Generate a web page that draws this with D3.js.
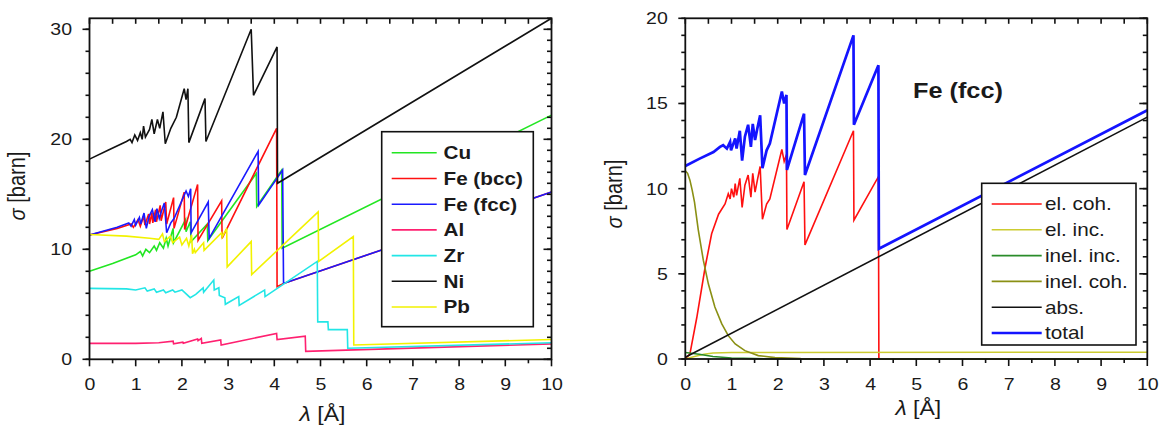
<!DOCTYPE html>
<html>
<head>
<meta charset="utf-8">
<script src="https://cdn.jsdelivr.net/npm/d3@7"></script>
<style>
  body { margin: 0; background: #fff; }
  svg text { font-family: "Liberation Sans", Arial, sans-serif; fill: #1a1a1a; }
</style>
</head>
<body>
<svg id="chart" width="1164" height="430"></svg>
<script>
// Neutron cross sections vs wavelength: left = several metals, right = Fe (fcc) components

// ---- tick labels ----
const xTicks = [0, 1, 2, 3, 4, 5, 6, 7, 8, 9, 10];
const leftYTicks = [0, 10, 20, 30];
const rightYTicks = [0, 5, 10, 15, 20];

// ---- left panel series, [lambda (A), sigma (barn)] ----
const cuData = [[0,8.0],[0.5,8.7],[1.0,9.5],[1.1,9.8],[1.15,9.4],[1.22,10.0],[1.3,9.7],[1.4,10.3],[1.45,9.9],[1.52,10.6],[1.6,10.1],[1.66,11.0],[1.7,10.3],[1.81,11.9],[1.82,10.6],[2.08,12.7],[2.09,11.6],[2.18,12.5],[2.2,10.7],[2.55,12.3],[2.56,10.8],[3.61,16.9],[3.62,13.9],[4.16,17.2],[4.17,10.1],[10,22.2]];
const feBccData = [[0,11.3],[0.6,11.9],[0.9,12.3],[0.95,12.0],[1.05,12.7],[1.1,12.1],[1.17,13.0],[1.2,12.2],[1.28,13.2],[1.3,12.3],[1.35,13.3],[1.37,12.4],[1.43,13.6],[1.45,12.5],[1.53,14.0],[1.55,12.6],[1.65,14.3],[1.67,12.3],[1.82,14.7],[1.83,11.9],[2.05,15.2],[2.06,11.8],[2.34,15.9],[2.35,10.8],[2.86,14.4],[2.87,11.0],[4.05,21.0],[4.06,6.6],[4.2,6.9],[10,15.2]];
const feFccData = [[0,11.3],[0.6,12.0],[0.85,12.4],[0.9,12.1],[0.97,12.7],[1.0,12.2],[1.08,12.9],[1.11,12.3],[1.18,13.3],[1.23,11.9],[1.29,13.0],[1.36,13.6],[1.42,12.5],[1.46,13.7],[1.51,12.8],[1.56,13.5],[1.62,14.2],[1.67,11.5],[1.76,12.4],[1.83,12.8],[2.09,15.3],[2.14,14.8],[2.19,15.5],[2.2,11.5],[2.57,14.3],[2.59,11.0],[3.65,18.9],[3.66,14.0],[4.18,17.2],[4.2,6.9],[10,15.2]];
const alData = [[0,1.45],[1.0,1.45],[1.5,1.5],[1.81,1.65],[1.82,1.4],[2.02,1.55],[2.03,1.45],[2.34,1.85],[2.35,1.7],[2.42,1.9],[2.43,1.45],[2.84,1.75],[2.85,1.3],[4.05,2.35],[4.06,1.8],[4.67,2.1],[4.68,0.72],[10,1.4]];
const zrData = [[0,6.45],[0.8,6.4],[1.0,6.3],[1.2,6.5],[1.25,6.2],[1.4,6.4],[1.45,6.1],[1.6,6.3],[1.65,6.05],[1.8,6.3],[1.85,6.1],[2.0,6.3],[2.18,5.6],[2.3,5.9],[2.46,6.5],[2.47,6.1],[2.69,7.2],[2.7,6.3],[2.8,6.5],[2.81,5.8],[2.93,5.6],[2.94,5.0],[3.23,5.7],[3.24,4.9],[3.79,6.3],[3.8,5.7],[4.93,8.9],[4.94,3.4],[5.16,3.4],[5.17,2.7],[5.58,2.7],[5.59,1.0],[10,1.5]];
const niData = [[0,18.2],[0.4,19.0],[0.8,19.8],[0.88,20.0],[0.92,19.7],[0.98,20.4],[1.04,19.9],[1.1,20.6],[1.14,20.0],[1.17,21.2],[1.21,20.2],[1.3,20.9],[1.35,21.8],[1.4,20.5],[1.47,21.8],[1.52,21.0],[1.59,22.5],[1.64,19.6],[1.76,21.0],[1.88,22.0],[2.05,24.6],[2.09,23.6],[2.13,24.6],[2.15,19.7],[2.5,23.7],[2.52,19.8],[3.5,30.0],[3.55,24.0],[4.06,28.4],[4.07,16.0],[10,31.0]];
const pbData = [[0,11.35],[0.8,11.2],[1.3,11.0],[1.5,10.9],[1.58,11.4],[1.62,10.7],[1.75,11.2],[1.8,10.6],[1.95,11.1],[2.0,10.4],[2.1,11.0],[2.15,10.3],[2.21,11.3],[2.23,9.6],[2.27,10.0],[2.29,9.7],[2.47,10.6],[2.48,9.9],[2.86,11.5],[2.87,11.1],[2.97,11.9],[2.98,8.4],[3.5,10.7],[3.51,7.7],[4.95,13.4],[4.96,8.9],[5.71,11.15],[5.72,1.3],[10,1.8]];

// ---- right panel series (Fe fcc) ----
const elCohData = [[0,0],[0.1,0.3],[0.25,2.45],[0.43,5.4],[0.57,7.35],[0.72,8.5],[0.86,9.1],[0.93,9.7],[0.97,9.4],[1.0,10.0],[1.05,9.5],[1.08,10.3],[1.11,9.6],[1.18,10.6],[1.23,8.9],[1.29,10.2],[1.36,10.8],[1.42,9.5],[1.46,10.9],[1.51,9.8],[1.56,10.5],[1.62,11.3],[1.67,8.2],[1.76,9.1],[1.83,9.4],[2.09,12.3],[2.14,11.6],[2.19,12.0],[2.2,7.6],[2.57,10.4],[2.59,6.7],[3.64,13.4],[3.65,8.15],[4.18,10.7],[4.19,0],[10,0]];
const elIncData = [[0,0],[0.2,0.15],[0.4,0.28],[0.6,0.35],[1.0,0.38],[10,0.4]];
const inelIncData = [[0,0.38],[0.3,0.28],[0.6,0.15],[1.0,0.06],[1.5,0.02],[2.0,0],[10,0]];
const inelCohData = [[0,11.05],[0.05,10.9],[0.1,10.5],[0.15,9.9],[0.2,9.2],[0.28,7.6],[0.39,5.8],[0.5,4.4],[0.64,3.05],[0.79,2.06],[0.93,1.37],[1.08,0.88],[1.29,0.49],[1.58,0.2],[1.94,0.08],[2.5,0.02],[3,0],[10,0]];
const absData = [[0,0.1],[10,14.2]];
const totalData = [[0,11.33],[0.3,11.75],[0.61,12.15],[0.75,12.45],[0.82,12.55],[0.9,12.35],[0.97,12.75],[0.99,12.25],[1.08,12.95],[1.11,12.35],[1.18,13.4],[1.23,11.65],[1.29,13.05],[1.36,13.75],[1.42,12.45],[1.46,13.8],[1.51,12.85],[1.56,13.55],[1.62,14.3],[1.67,11.2],[1.76,12.25],[1.83,12.65],[2.09,15.7],[2.14,15.0],[2.19,15.5],[2.2,11.1],[2.57,14.4],[2.59,10.8],[3.64,19.0],[3.65,13.75],[4.18,17.25],[4.19,6.47],[10,14.6]];

const STRETCH = 1.15; // glyphs in the reference are a little wide
const svg = d3.select('#chart');

const leftPanel = {
    left: 89.5, right: 551.5, top: 18.3, bottom: 359.3, yMax: 31,
    yTicks: leftYTicks, yMinorStep: 2, yRightMajor: 10,
    ylabelX: 25, ylabelY: 186, xlabelY: 421,
    series: [
        {name: 'Cu', data: cuData, color: '#22e622', width: 1.6},
        {name: 'Fe (bcc)', data: feBccData, color: '#ff1010', width: 1.6},
        {name: 'Fe (fcc)', data: feFccData, color: '#1a1aff', width: 1.6},
        {name: 'Al', data: alData, color: '#ff2070', width: 1.6},
        {name: 'Zr', data: zrData, color: '#22e6e6', width: 1.6},
        {name: 'Ni', data: niData, color: '#111111', width: 1.6},
        {name: 'Pb', data: pbData, color: '#f2f200', width: 1.6}
    ],
    legend: {x: 381.7, y: 131.7, w: 151.6, h: 195, row0: 152.8, step: 25.7,
             lineX0: 391.7, lineX1: 436.7, textX: 443.5, bold: true, size: 18}
};

const rightPanel = {
    left: 685.3, right: 1147.3, top: 18.3, bottom: 359, yMax: 20,
    yTicks: rightYTicks, yMinorStep: 1, yRightMajor: 5,
    ylabelX: 622, ylabelY: 194, xlabelY: 415,
    series: [
        {name: 'el. coh.', data: elCohData, color: '#ff1010', width: 1.6},
        {name: 'el. inc.', data: elIncData, color: '#cccc30', width: 1.6},
        {name: 'inel. inc.', data: inelIncData, color: '#2a8c2a', width: 1.6},
        {name: 'inel. coh.', data: inelCohData, color: '#8a9014', width: 1.6},
        {name: 'abs.', data: absData, color: '#111111', width: 1.6},
        {name: 'total', data: totalData, color: '#1414ff', width: 2.7}
    ],
    legend: {x: 981.7, y: 183.3, w: 154.3, h: 161.7, row0: 204, step: 25.8,
             lineX0: 991.7, lineX1: 1041.7, textX: 1045, bold: false, size: 18}
};

function styleAxis(g) {
    g.select('.domain').remove();
    g.attr('font-family', null).attr('font-size', 17).attr('color', '#1a1a1a');
}

// tick marks drawn as plain lines from the scale
function tickMarks(g, values, scale, orient, at, len) {
    g.append('g').selectAll('line')
        .data(values)
        .join('line')
        .attr('stroke', '#111')
        .attr('stroke-width', 1.6)
        .each(function(d) {
            const v = scale(d);
            const l = d3.select(this);
            if (orient === 'h') l.attr('x1', v).attr('x2', v).attr('y1', at).attr('y2', at + len);
            else l.attr('y1', v).attr('y2', v).attr('x1', at).attr('x2', at + len);
        });
}

function drawPanel(p) {
    const x = d3.scaleLinear().domain([0, 10]).range([p.left, p.right]);
    const y = d3.scaleLinear().domain([0, p.yMax]).range([p.bottom, p.top]);
    const g = svg.append('g');

    // Curves
    const line = d3.line().x(d => x(d[0])).y(d => y(d[1]));
    p.series.forEach(s => {
        g.append('path')
            .datum(s.data)
            .attr('d', line)
            .attr('fill', 'none')
            .attr('stroke', s.color)
            .attr('stroke-width', s.width);
    });

    // Tick labels from d3 axes
    const bx = g.append('g')
        .attr('transform', `translate(0,${p.bottom})`)
        .call(d3.axisBottom(x).tickValues(xTicks).tickSize(0).tickFormat(d3.format('d')))
        .call(styleAxis);
    bx.selectAll('text')
        .attr('y', 0).attr('dy', '0.71em')
        .attr('transform', `translate(0,18.7) scale(${STRETCH},1)`);

    const ly = g.append('g')
        .attr('transform', `translate(${p.left},0)`)
        .call(d3.axisLeft(y).tickValues(p.yTicks).tickSize(0).tickFormat(d3.format('d')))
        .call(styleAxis);
    ly.selectAll('text')
        .attr('x', 0).attr('dy', '0.32em')
        .attr('transform', `translate(-17.5,0) scale(${STRETCH},1)`);

    // Tick marks: bottom/left outward, top/right inward
    tickMarks(g, d3.range(0.5, 10, 1), x, 'h', p.bottom, 4);
    tickMarks(g, xTicks, x, 'h', p.bottom, 7);
    tickMarks(g, d3.range(0, p.yMax + 0.01, p.yMinorStep), y, 'v', p.left, -4);
    tickMarks(g, p.yTicks, y, 'v', p.left, -7);
    tickMarks(g, d3.range(0, 10.01, 0.5), x, 'h', p.top, 5.5);
    tickMarks(g, d3.range(0, p.yMax + 0.01, 1), y, 'v', p.right, -4.5);
    tickMarks(g, d3.range(0, p.yMax + 0.01, p.yRightMajor), y, 'v', p.right, -8);

    // Frame
    g.append('rect')
        .attr('x', p.left).attr('y', p.top)
        .attr('width', p.right - p.left).attr('height', p.bottom - p.top)
        .attr('fill', 'none').attr('stroke', '#111').attr('stroke-width', 1.8);

    // Axis titles
    const yl = g.append('text')
        .attr('text-anchor', 'middle')
        .attr('font-size', 20)
        .attr('transform', `translate(${p.ylabelX},${p.ylabelY}) scale(${STRETCH},1) rotate(-90)`);
    yl.append('tspan').attr('font-style', 'italic').text('σ');
    yl.append('tspan').text(' [barn]');

    const xl = g.append('text')
        .attr('text-anchor', 'middle')
        .attr('font-size', 20)
        .attr('transform', `translate(${(p.left + p.right) / 2 + 2},${p.xlabelY}) scale(${STRETCH},1)`);
    xl.append('tspan').attr('font-style', 'italic').text('λ');
    xl.append('tspan').text(' [Å]');

    // Legend
    const L = p.legend;
    const lg = g.append('g');
    lg.append('rect')
        .attr('x', L.x).attr('y', L.y).attr('width', L.w).attr('height', L.h)
        .attr('fill', '#fff').attr('stroke', '#111').attr('stroke-width', 1.6);
    p.series.forEach((s, i) => {
        const yy = L.row0 + i * L.step;
        lg.append('line')
            .attr('x1', L.lineX0).attr('x2', L.lineX1)
            .attr('y1', yy).attr('y2', yy)
            .attr('stroke', s.color).attr('stroke-width', s.width);
        lg.append('text')
            .attr('transform', `translate(${L.textX},${yy}) scale(${STRETCH},1)`)
            .attr('dy', '0.35em')
            .attr('font-size', L.size)
            .attr('font-weight', L.bold ? 'bold' : 'normal')
            .text(s.name);
    });
    return g;
}

drawPanel(leftPanel);
const rg = drawPanel(rightPanel);

rg.append('text')
    .attr('transform', `translate(913,98) scale(${STRETCH},1)`)
    .attr('font-size', 22)
    .attr('font-weight', 'bold')
    .text('Fe (fcc)');
</script>
</body>
</html>
